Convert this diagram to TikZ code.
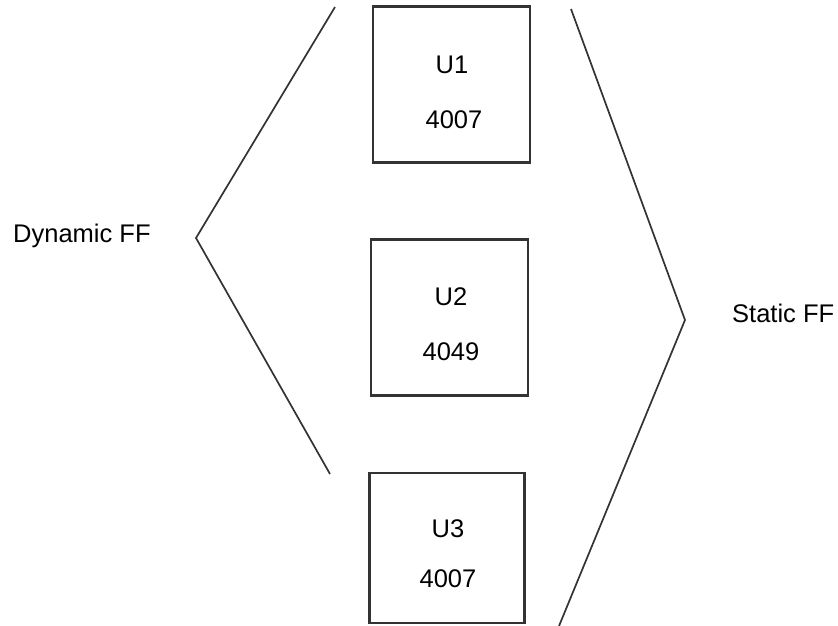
\documentclass[tikz,border=0pt]{standalone}
\usepackage{fontspec}
\setmainfont{Liberation Sans}
\tikzstyle{chip}=[draw=black!80, line width=2.2pt, minimum width=157pt, minimum height=156pt, inner sep=0pt]
\tikzstyle{lbl}=[font=\fontsize{25.5}{30}\selectfont, inner sep=0pt, anchor=base]
\tikzstyle{brace}=[draw=black!80, line width=1.7pt, line join=miter]

\begin{document}
\begin{tikzpicture}[x=1pt,y=-1pt]
\useasboundingbox (0,0) rectangle (838,626);
\draw (451.5,84.5) node[chip](u1){};
\draw (449.5,317.5) node[chip](u2){};
\draw (447,548) node[chip, minimum width=155pt, minimum height=150pt](u3){};
%
\draw (452,74) node[lbl](u1name){U1};
\draw (454,128) node[lbl](u1part){4007};
\draw (451,305) node[lbl](u2name){U2};
\draw (451,360) node[lbl](u2part){4049};
\draw (448,537) node[lbl](u3name){U3};
\draw (448,587) node[lbl](u3part){4007};
%
\coordinate (dyntop) at (335,7);
\coordinate (dyntip) at (196,238);
\coordinate (dynbot) at (330,474);
\draw[brace] (dyntop) -- (dyntip) -- (dynbot);
\draw (13,242) node[lbl, anchor=base west](dyn){Dynamic FF};
%
\coordinate (stattop) at (571,9);
\coordinate (stattip) at (685,320);
\coordinate (statbot) at (559,626);
\draw[brace] (stattop) -- (stattip) -- (statbot);
\draw (732,322) node[lbl, anchor=base west](stat){Static FF};
\end{tikzpicture}
\end{document}
